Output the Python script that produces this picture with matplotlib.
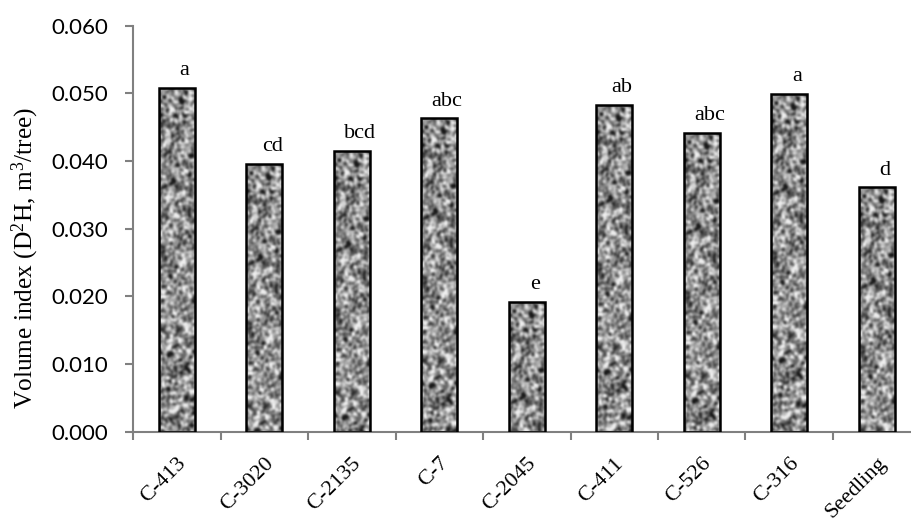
import numpy as np
import matplotlib
matplotlib.use("Agg")
import matplotlib.pyplot as plt
from matplotlib.patches import Rectangle
from matplotlib.transforms import ScaledTranslation

# data
clones = ["C-413", "C-3020", "C-2135", "C-7", "C-2045", "C-411", "C-526", "C-316", "Seedling"]
volume = [0.0508, 0.0396, 0.0415, 0.0463, 0.0192, 0.0483, 0.0441, 0.0499, 0.0361]
groups = ["a", "cd", "bcd", "abc", "e", "ab", "abc", "a", "d"]
yticks = [0.000, 0.010, 0.020, 0.030, 0.040, 0.050, 0.060]

plt.rcParams["mathtext.fontset"] = "custom"
plt.rcParams["mathtext.rm"] = "Liberation Serif"
plt.rcParams["mathtext.default"] = "rm"

fig = plt.figure(figsize=(9.12, 5.23), dpi=100)
ax = fig.add_axes([133 / 912, 91.3 / 523, 787.5 / 912, 406 / 523])

x = np.arange(len(clones))
bars = ax.bar(x, volume, width=0.41, facecolor="none", edgecolor="black",
              linewidth=1.8, zorder=3)

# speckled grey texture inside the bars (style only)
step = 1.5  # px per texture sample
rng = np.random.default_rng(11)
rows, cols = 240, 26
noise = rng.random((rows + 4, cols + 4))
smooth = np.zeros((rows, cols))
for i in range(5):
    for j in range(5):
        wgt = np.exp(-((i - 2) ** 2 + (j - 2) ** 2) / 1.6)
        smooth += wgt * noise[i:i + rows, j:j + cols]
smooth = (smooth - smooth.mean()) / smooth.std()
tex = np.clip(0.55 + 0.19 * smooth, 0.1, 0.93)

px_per_unit = 406 / 0.060
for b in bars:
    x0, w, h = b.get_x(), b.get_width(), b.get_height()
    n = max(4, int(h * px_per_unit / step))
    im = ax.imshow(tex[:n], cmap="gray", vmin=0, vmax=1, aspect="auto",
                   extent=(x0, x0 + w, 0, h), interpolation="bicubic", zorder=2)
    im.set_clip_path(Rectangle((x0, 0), w, h, transform=ax.transData))

for xi, v, g in zip(x, volume, groups):
    ax.text(xi + 0.09, v + 0.0019, g, ha="center", va="baseline",
            fontsize=16, family="Liberation Serif")

ax.set_xlim(-0.5, len(clones) - 0.5)
ax.set_ylim(0, 0.060)
ax.set_yticks(yticks)
ax.set_yticklabels([f"{t:.3f}" for t in yticks], fontsize=16, family="Lato")
ax.set_xticks(x)
ax.set_xticklabels(clones, rotation=45, ha="right", rotation_mode="anchor",
                   fontsize=16, family="Liberation Serif")
shift = ScaledTranslation(-13 / 100, 0, fig.dpi_scale_trans)
for lab in ax.get_xticklabels():
    lab.set_transform(lab.get_transform() + shift)
ax.set_xticks(np.arange(len(clones) + 1) - 0.5, minor=True)
ax.tick_params(axis="x", which="major", length=0, pad=16)
ax.tick_params(axis="x", which="minor", length=6, width=1.5, color="#808080")
ax.tick_params(axis="y", length=6, width=1.5, color="#808080", pad=12)

for s in ["top", "right"]:
    ax.spines[s].set_visible(False)
for s in ["left", "bottom"]:
    ax.spines[s].set_color("#808080")
    ax.spines[s].set_linewidth(1.5)

ax.set_ylabel("Volume index (D$^{2}$H, m$^{3}$/tree)", fontsize=18.3,
              family="Liberation Serif")
ax.yaxis.set_label_coords(-0.117, 0.428)

fig.savefig("out.png", dpi=100)
